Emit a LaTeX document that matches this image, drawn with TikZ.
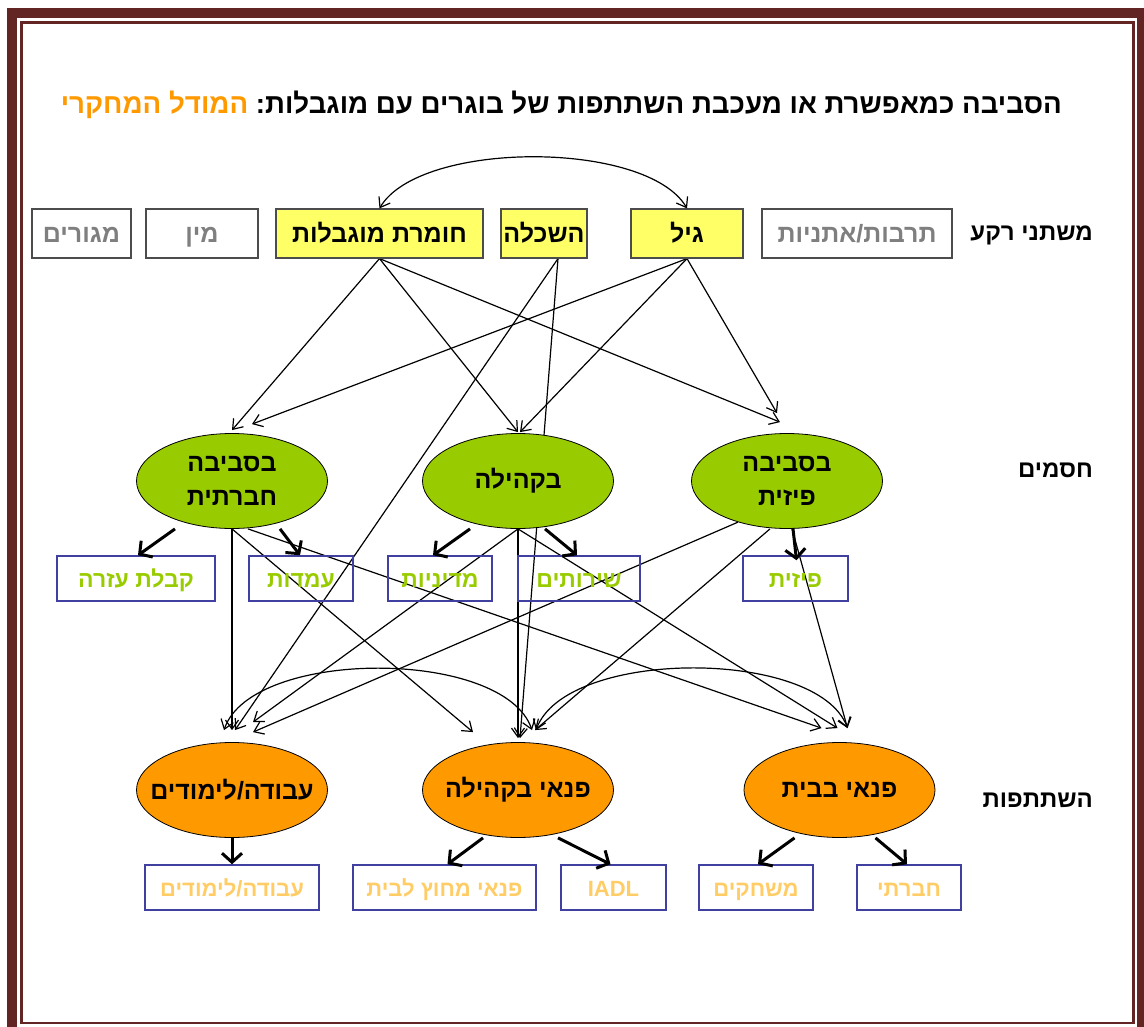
\documentclass[tikz,border=0pt]{standalone}
\usepackage{fontspec}
\usetikzlibrary{positioning,shapes.geometric,backgrounds,arrows.meta}
\TeXXeTstate=1
\newfontfamily\heb[Script=Hebrew]{Liberation Sans}
\newcommand\rtltext[1]{\beginR#1\endR}
\definecolor{framered}{RGB}{99,37,35}
\definecolor{bgyellow}{RGB}{255,255,102}
\definecolor{barrgreen}{RGB}{153,204,0}
\definecolor{partorange}{RGB}{255,153,0}
\definecolor{lightorange}{RGB}{255,204,102}
\definecolor{boxblue}{RGB}{64,64,160}
\definecolor{bggray}{RGB}{127,127,127}

\begin{document}
\begin{tikzpicture}[
  x=1pt, y=-1pt,
  bgbox/.style={draw=black!70, line width=1.2pt, minimum height=49pt, inner sep=0pt, text height=19pt, text depth=0pt, font=\heb\bfseries\fontsize{25}{29}\selectfont},
  greybox/.style={bgbox, fill=white, text=bggray},
  yelbox/.style={bgbox, fill=bgyellow, text=black},
  barrell/.style={ellipse, draw=black, line width=0.8pt, fill=barrgreen, minimum width=191pt, minimum height=95pt, inner xsep=-20pt, inner ysep=-6pt, align=center, font=\heb\bfseries\fontsize{25}{34}\selectfont},
  partell/.style={barrell, fill=partorange},
  itembox/.style={draw=boxblue, line width=1.5pt, minimum height=45pt, inner sep=0pt, text height=17pt, text depth=0pt, font=\heb\bfseries\fontsize{23}{27}\selectfont},
  barritem/.style={itembox, text=barrgreen},
  partitem/.style={itembox, text=lightorange, font=\heb\bfseries\fontsize{22}{26}\selectfont},
  rowlabel/.style={anchor=east, inner sep=0pt, font=\heb\bfseries\fontsize{24}{28}\selectfont},
  thinarr/.style={line width=1.2pt, -{Straight Barb[length=9pt,width=13pt]}},
  thickarr/.style={line width=3pt, -{Straight Barb[length=9pt,width=20pt]}},
]
\useasboundingbox (0,0) rectangle (1144,1027);
% frame
\draw[framered, line width=10pt] (12,13) rectangle (1142,1032);
\draw[framered, line width=2.5pt] (21.5,22.5) rectangle (1133.5,1023);

% title
\node[anchor=east, inner sep=0pt, font=\heb\bfseries\fontsize{27.7}{32}\selectfont] (title) at (1062,105)
  {{\color{partorange}\rtltext{המודל המחקרי}}\ \rtltext{הסביבה כמאפשרת או מעכבת השתתפות של בוגרים עם מוגבלות:}};

% background variables
\node[greybox, minimum width=99pt] (living) at (81.5,233.5) {\rtltext{מגורים}};
\node[greybox, minimum width=112pt] (gender) at (202,233.5) {\rtltext{מין}};
\node[yelbox, minimum width=207pt] (severity) at (379.5,233.5) {\rtltext{חומרת מוגבלות}};
\node[yelbox, minimum width=86pt] (educ) at (544,233.5) {\rtltext{השכלה}};
\node[yelbox, minimum width=112pt] (age) at (687,233.5) {\rtltext{גיל}};
\node[greybox, minimum width=190pt] (culture) at (857,233.5) {\rtltext{תרבות/אתניות}};
\node[rowlabel] (bglabel) at (1093,235) {\rtltext{משתני רקע}};

% barriers
\node[barrell] (social) at (232,481) {\rtltext{בסביבה}\\\rtltext{חברתית}};
\node[barrell] (commun) at (518,481) {\rtltext{בקהילה}};
\node[barrell] (physic) at (787,481) {\rtltext{בסביבה}\\\rtltext{פיזית}};
\node[rowlabel] (barlabel) at (1093,470) {\rtltext{חסמים}};

\node[barritem, minimum width=158pt] (help) at (136,578.5) {\rtltext{קבלת עזרה}};
\node[barritem, minimum width=104pt] (attit) at (301,578.5) {\rtltext{עמדות}};
\node[barritem, minimum width=104pt] (policy) at (440,578.5) {\rtltext{מדיניות}};
\node[barritem, minimum width=122pt] (servic) at (579,578.5) {\rtltext{שירותים}};
\node[barritem, minimum width=105pt] (physb) at (795.5,578.5) {\rtltext{פיזית}};

% participation
\node[partell] (work) at (232,790) {\rtltext{עבודה/לימודים}};
\node[partell] (leisc) at (518,790) {\rtltext{פנאי בקהילה}};
\node[partell] (leish) at (839.5,790) {\rtltext{פנאי בבית}};
\node[rowlabel] (partlabel) at (1093,800) {\rtltext{השתתפות}};

\node[partitem, minimum width=174pt] (workb) at (232,887.5) {\rtltext{עבודה/לימודים}};
\node[partitem, minimum width=183pt] (outb) at (444.5,887.5) {\rtltext{פנאי מחוץ לבית}};
\node[partitem, minimum width=105pt] (iadl) at (613.5,887.5) {IADL};
\node[partitem, minimum width=114pt] (games) at (756,887.5) {\rtltext{משחקים}};
\node[partitem, minimum width=104pt] (socb) at (909,887.5) {\rtltext{חברתי}};

\begin{scope}[on background layer]
% background -> barriers
\draw[thinarr] (severity.south) -- ([yshift=3pt]social.north);
\draw[thinarr] (severity.south) -- ([yshift=1pt]commun.north);
\draw[thinarr] (severity.south) -- ([xshift=-7pt,yshift=11pt]physic.north);
\draw[thinarr] (age.south) -- ([xshift=20pt,yshift=9pt]social.north);
\draw[thinarr] (age.south) -- ([xshift=2pt,yshift=1pt]commun.north);
\draw[thinarr] (age.south) -- ([xshift=-10pt,yshift=20pt]physic.north);
\draw[thinarr] ([xshift=14pt]educ.south) -- ([xshift=3pt,yshift=12pt]work.north);
\draw[thinarr] ([xshift=14pt]educ.south) -- ([xshift=2pt,yshift=4pt]leisc.north);
% barriers -> participation
\draw[thinarr] (social.south) -- ([yshift=12pt]work.north);
\draw[thinarr] (social.south) -- ([xshift=-45pt,yshift=10pt]leisc.north);
\draw[thinarr] ([xshift=16pt]social.south) -- ([xshift=-18pt,yshift=14pt]leish.north);
\draw[thinarr] (commun.south) -- ([xshift=21pt,yshift=20pt]work.north);
\draw[thinarr] (commun.south) -- ([yshift=4pt]leisc.north);
\draw[thinarr] (commun.south) -- ([xshift=-2pt,yshift=14pt]leish.north);
\draw[thinarr] (physic.-140) -- ([xshift=21pt,yshift=10pt]work.north);
\draw[thinarr] ([xshift=-17pt]physic.south) -- ([xshift=17pt,yshift=12pt]leisc.north);
\draw[thinarr] ([xshift=5pt]physic.south) -- ([xshift=8pt,yshift=14pt]leish.north);
\end{scope}

% two-way links
\draw[thinarr, {Straight Barb[length=9pt,width=13pt]}-{Straight Barb[length=9pt,width=13pt]}]
  (severity.north) .. controls (420,140) and (647,140) .. (age.north);
\draw[thinarr, {Straight Barb[length=9pt,width=13pt]}-{Straight Barb[length=9pt,width=13pt]}]
  ([xshift=-8pt,yshift=12pt]work.north) .. controls (252,648) and (504,648) .. ([xshift=14pt,yshift=12pt]leisc.north);
\draw[thinarr, {Straight Barb[length=9pt,width=13pt]}-{Straight Barb[length=9pt,width=13pt]}]
  ([xshift=18pt,yshift=12pt]leisc.north) .. controls (566,648) and (818,648) .. ([xshift=8pt,yshift=14pt]leish.north);

% sub-items
\draw[thickarr] ([xshift=-57pt]social.south) -- ([xshift=2pt]help.north);
\draw[thickarr] ([xshift=48pt]social.south) -- ([xshift=-1pt]attit.north);
\draw[thickarr] ([xshift=-48pt]commun.south) -- ([xshift=-7pt]policy.north);
\draw[thickarr] ([xshift=27pt]commun.south) -- ([xshift=-2pt]servic.north);
\draw[thickarr] ([xshift=6pt]physic.south) -- ([xshift=1pt,yshift=-5pt]physb.north);
\draw[thickarr] (work.south) -- (workb.north);
\draw[thickarr] ([xshift=-35pt]leisc.south) -- ([xshift=3pt]outb.north);
\draw[thickarr] ([xshift=40pt]leisc.south) -- ([xshift=-3pt]iadl.north);
\draw[thickarr] ([xshift=-45pt]leish.south) -- ([xshift=2pt]games.north);
\draw[thickarr] ([xshift=36pt]leish.south) -- ([xshift=-2pt]socb.north);
\end{tikzpicture}
\end{document}
